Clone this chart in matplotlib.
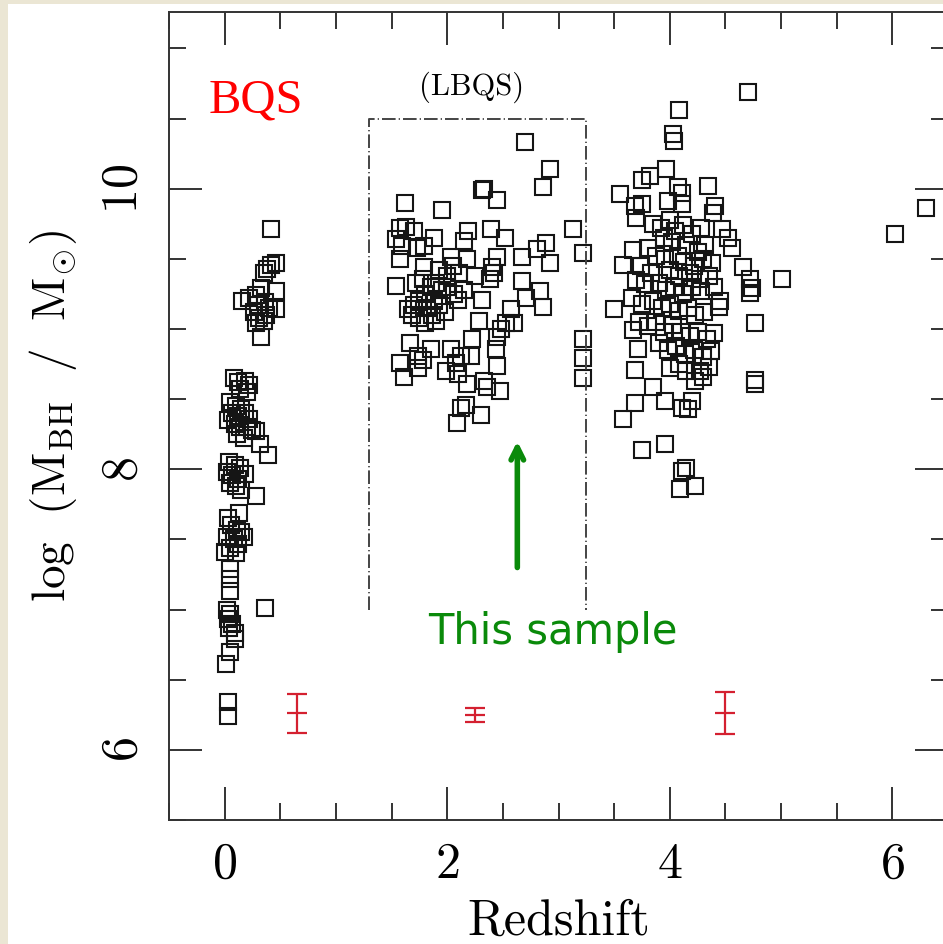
import matplotlib
matplotlib.use("Agg")
import matplotlib.pyplot as plt
from matplotlib.patches import Rectangle
from matplotlib.ticker import MultipleLocator

plt.rcParams["font.family"] = ["cmr10", "DejaVu Serif"]
plt.rcParams["mathtext.fontset"] = "cm"
plt.rcParams["axes.formatter.use_mathtext"] = True

# ---- black hole masses vs redshift ---------------------------------------- #
bqs_z = [0.42, 0.38, 0.42, 0.46, 0.35, 0.33, 0.46, 0.16, 0.22, 0.28, 0.30, 0.36, 0.40, 0.46, 0.26, 0.31, 0.35, 0.28, 0.37, 0.33,
         0.08, 0.12, 0.18, 0.22, 0.14, 0.20,
         0.05, 0.10, 0.15, 0.07, 0.12, 0.18, 0.22, 0.03, 0.09, 0.14, 0.20, 0.25, 0.11, 0.17, 0.32, 0.39, 0.28,
         0.04, 0.09, 0.14, 0.02, 0.07, 0.12, 0.18, 0.05, 0.10, 0.15, 0.28,
         0.03, 0.13, 0.06, 0.11, 0.15, 0.02, 0.08, 0.12, 0.17, 0.05, 0.10, 0.00,
         0.05, 0.05, 0.05, 0.36,
         0.02, 0.05, 0.03, 0.07, 0.04, 0.09, 0.09, 0.05, 0.01, 0.03, 0.03]
bqs_m = [9.71, 9.43, 9.46, 9.47, 9.40, 9.29, 9.27, 9.20, 9.22, 9.24, 9.17, 9.19, 9.15, 9.14, 9.12, 9.08, 9.06, 9.04, 9.10, 8.94,
         8.65, 8.62, 8.63, 8.60, 8.57, 8.55,
         8.48, 8.45, 8.43, 8.40, 8.38, 8.40, 8.36, 8.35, 8.32, 8.30, 8.30, 8.28, 8.25, 8.22, 8.18, 8.10, 8.27,
         8.05, 8.03, 8.01, 7.98, 7.96, 7.93, 7.97, 7.90, 7.88, 7.85, 7.81,
         7.65, 7.69, 7.60, 7.57, 7.55, 7.52, 7.50, 7.47, 7.52, 7.44, 7.40, 7.41,
         7.29, 7.22, 7.13, 7.01,
         7.00, 6.97, 6.93, 6.90, 6.87, 6.83, 6.79, 6.70, 6.61, 6.34, 6.24]

lbqs_z = [2.70, 2.92, 2.86, 2.31, 2.33, 2.45, 1.62, 1.95, 3.13,
          1.58, 1.63, 1.70, 1.54, 1.88, 2.19, 2.39, 2.52, 1.59, 1.73, 1.79, 2.15,
          3.22, 2.89, 2.81, 2.67, 2.92, 1.58, 1.79, 2.03, 2.18, 2.45, 2.40,
          2.05, 2.11, 2.00, 1.93, 2.25, 2.38, 2.42,
          1.54, 1.72, 1.78, 1.85, 1.90, 1.95, 2.00, 2.06, 1.80, 1.75, 1.70, 1.82, 1.88, 1.93, 1.98, 1.68, 1.75, 1.80, 1.86, 1.90, 2.10, 2.15, 1.65,
          2.31, 2.67, 2.71, 2.83, 2.86, 2.57, 2.53, 2.60, 2.45, 2.29, 2.48,
          1.67, 1.85, 1.74, 1.58, 1.74, 1.61, 1.78,
          2.03, 2.12, 2.21, 2.22, 2.44, 2.45, 2.08,
          1.99, 2.10, 2.18, 2.33, 2.36, 2.47, 2.17, 2.12, 2.30, 2.09,
          3.22, 3.22, 3.22]
lbqs_m = [10.33, 10.14, 10.01, 9.99, 10.00, 9.92, 9.90, 9.85, 9.71,
          9.72, 9.73, 9.70, 9.64, 9.65, 9.70, 9.71, 9.65, 9.59, 9.58, 9.59, 9.63,
          9.54, 9.61, 9.57, 9.51, 9.47, 9.50, 9.44, 9.51, 9.50, 9.51, 9.44,
          9.45, 9.40, 9.38, 9.42, 9.38, 9.36, 9.40,
          9.31, 9.33, 9.36, 9.30, 9.33, 9.28, 9.30, 9.25, 9.25, 9.20, 9.17, 9.15, 9.20, 9.17, 9.12, 9.10, 9.08, 9.04, 9.10, 9.06, 9.21, 9.28, 9.14,
          9.21, 9.34, 9.22, 9.27, 9.16, 9.14, 9.04, 9.04, 8.94, 9.06, 9.00,
          8.90, 8.86, 8.81, 8.76, 8.72, 8.66, 8.78,
          8.86, 8.81, 8.81, 8.93, 8.86, 8.74, 8.76,
          8.70, 8.68, 8.61, 8.63, 8.59, 8.56, 8.46, 8.44, 8.39, 8.33,
          8.93, 8.79, 8.65]

hz_z = [4.70, 4.08, 4.03, 4.04, 3.97, 3.82, 3.75, 4.34, 4.07, 4.11, 3.55, 3.69, 3.75, 3.98, 4.11, 4.41, 4.39, 3.70,
        3.85, 3.92, 4.00, 4.05, 4.12, 4.20, 4.28, 4.47, 4.52, 4.56, 3.95, 4.02, 4.15, 4.25, 4.32, 3.80, 3.67, 3.88, 3.96, 4.07, 4.13, 4.22, 4.30, 4.38,
        3.58, 3.74, 3.83, 4.00, 4.08, 4.18, 4.27, 4.35, 4.66, 4.72, 4.74, 5.01, 4.72,
        3.70, 3.78, 3.90, 3.97, 4.04, 4.12, 4.20, 4.28, 4.40, 4.45, 3.50, 3.66, 3.75, 3.85, 3.93, 4.00, 4.08, 4.16, 4.23, 4.31, 4.44,
        3.67, 3.71, 3.72, 3.80, 3.88, 3.95, 4.03, 4.10, 4.18, 4.25, 4.33, 4.40, 4.77,
        3.90, 3.98, 4.06, 4.14, 4.22, 4.30, 4.37, 3.69, 4.00, 4.08, 4.15, 4.27, 4.35, 4.23, 4.30, 3.85, 4.20, 4.16, 4.11, 3.69,
        3.96, 3.58, 4.77, 4.77, 3.75, 3.96, 4.11, 4.15, 4.09, 4.23,
        6.02, 6.30]
hz_m = [10.69, 10.56, 10.39, 10.34, 10.14, 10.09, 10.06, 10.02, 10.01, 9.97, 9.96, 9.88, 9.89, 9.91, 9.89, 9.88, 9.83, 9.79,
        9.75, 9.72, 9.78, 9.70, 9.74, 9.68, 9.72, 9.71, 9.65, 9.58, 9.65, 9.62, 9.60, 9.55, 9.60, 9.58, 9.56, 9.52, 9.50, 9.52, 9.48, 9.45, 9.50, 9.47,
        9.46, 9.45, 9.40, 9.42, 9.38, 9.40, 9.36, 9.38, 9.44, 9.36, 9.29, 9.36, 9.26,
        9.35, 9.32, 9.33, 9.28, 9.30, 9.25, 9.30, 9.27, 9.30, 9.20, 9.14, 9.22, 9.18, 9.20, 9.15, 9.18, 9.13, 9.15, 9.10, 9.12, 9.16,
        8.99, 8.86, 9.05, 9.02, 9.05, 8.98, 9.03, 8.98, 8.95, 8.98, 8.93, 8.97, 9.04,
        8.90, 8.85, 8.88, 8.82, 8.85, 8.80, 8.84, 8.71, 8.72, 8.75, 8.70, 8.70, 8.73, 8.63, 8.66, 8.59, 8.49, 8.43, 8.44, 8.47,
        8.49, 8.36, 8.64, 8.61, 8.14, 8.18, 7.99, 8.01, 7.86, 7.88,
        9.68, 9.86]

# typical uncertainties per sample
err_z = [0.65, 2.25, 4.50]
err_m = [6.26, 6.25, 6.26]
err_dm = [0.14, 0.05, 0.15]

# LBQS selection window (redshift range, mass floor / ceiling)
lbqs_box_z = [1.3, 3.25]
lbqs_box_m = [7.0, 10.5]

fig = plt.figure(figsize=(9.43, 9.44), dpi=100, facecolor="#ebe6d4")
fig.patches.append(Rectangle((8 / 943, 0), 1, 1 - 4 / 944, transform=fig.transFigure,
                             facecolor="white", edgecolor="none", zorder=-1))
ax = fig.add_axes([169 / 943, 1 - 820 / 944, (948 - 169) / 943, (820 - 12) / 944])
ax.set_facecolor("white")

mk = dict(marker="s", ls="none", ms=11.8, mfc="none", mec="#151515", mew=1.5)
ax.plot(bqs_z, bqs_m, **mk)
ax.plot(lbqs_z, lbqs_m, **mk)
ax.plot(hz_z, hz_m, **mk)

ax.errorbar(err_z, err_m, yerr=err_dm, fmt="_", ms=15, mew=1.6, color="#d42030",
            elinewidth=1.6, capsize=7.5, capthick=1.6)

z0, z1 = lbqs_box_z
m0, m1 = lbqs_box_m
ax.plot([z0, z0, z1, z1], [m0, m1, m1, m0], color="#444444", lw=1.4,
        dashes=(7, 1.6, 0.6, 1.6))
ax.text((z0 + z1) / 2 - 0.06, 10.72, "(LBQS)", fontsize=22, ha="center", va="center")

ax.text(0.28, 10.63, "BQS", color="red", fontsize=35, family="Liberation Serif",
        ha="center", va="center")

ax.annotate("", xy=(2.63, 8.22), xytext=(2.63, 7.28),
            arrowprops=dict(arrowstyle="->,head_length=0.9,head_width=0.45",
                            color="#0a8a0a", lw=4))
ax.text(2.95, 6.84, "This sample", color="#0a8a0a", fontsize=30,
        family="DejaVu Sans", ha="center", va="center")

ax.set_xlim(-0.5, 6.5)
ax.set_ylim(5.5, 11.26)
ax.xaxis.set_major_locator(MultipleLocator(2))
ax.xaxis.set_minor_locator(MultipleLocator(0.5))
ax.yaxis.set_major_locator(MultipleLocator(2))
ax.yaxis.set_minor_locator(MultipleLocator(0.5))
ax.tick_params(which="both", direction="in", top=True, right=True,
               color="#333333", width=1.4, labelsize=36)
ax.tick_params(which="major", length=24)
ax.tick_params(which="minor", length=12)
ax.tick_params(axis="x", pad=16)
ax.tick_params(axis="y", pad=16, labelrotation=90)
for lab in ax.get_yticklabels():
    lab.set_va("center")
for sp in ax.spines.values():
    sp.set_color("#333333")
    sp.set_linewidth(1.4)

ax.set_xlabel("Redshift", fontsize=36, labelpad=8)
ax.set_ylabel(r"$\mathrm{log}\ \ (\mathrm{M_{BH}}\ \ /\ \ \mathrm{M_{\odot}})$",
              fontsize=34, labelpad=16)

fig.savefig("out.png", dpi=100, facecolor=fig.get_facecolor())
